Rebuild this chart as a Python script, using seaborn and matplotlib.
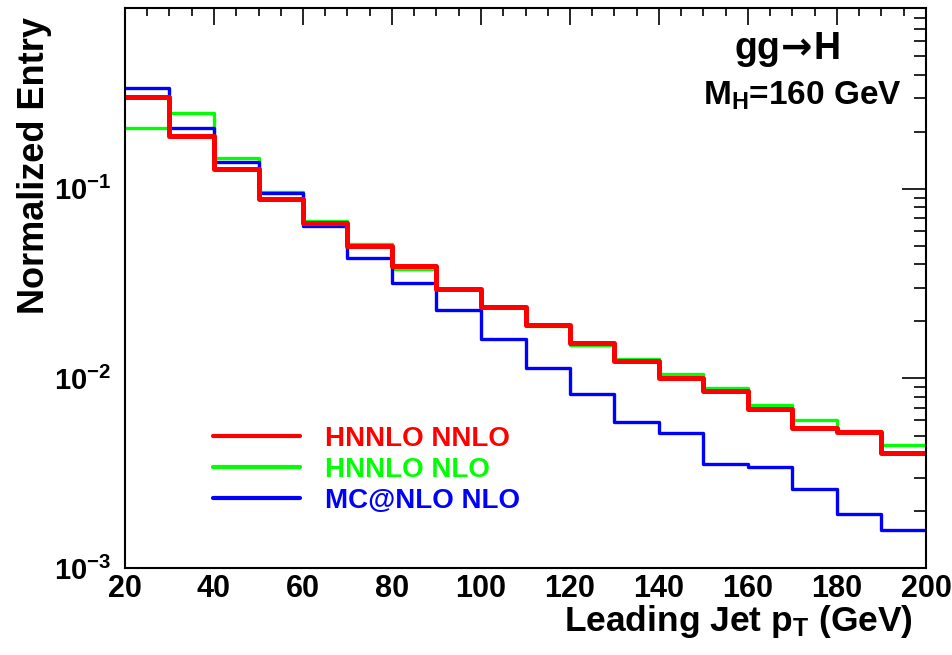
import numpy as np
import pandas as pd
import matplotlib
matplotlib.use("Agg")
import matplotlib.pyplot as plt
import seaborn as sns
from matplotlib.ticker import FixedLocator, MultipleLocator, LogLocator, FuncFormatter

# ---- data ----
bin_edges = [20, 30, 40, 50, 60, 70, 80, 90, 100, 110, 120, 130, 140, 150, 160, 170, 180, 190, 200]
hnnlo_nnlo = [0.305, 0.190, 0.127, 0.0889, 0.066, 0.0497, 0.0393, 0.0297, 0.0239, 0.0191,
              0.0153, 0.0124, 0.0101, 0.00863, 0.0069, 0.00546, 0.00519, 0.00403]
hnnlo_nlo = [0.210, 0.251, 0.145, 0.0968, 0.068, 0.051, 0.0380, 0.0295, 0.0238, 0.0189,
             0.0151, 0.0127, 0.0105, 0.00893, 0.00724, 0.00604, 0.0053, 0.00444]
mcnlo_nlo = [0.340, 0.210, 0.138, 0.0946, 0.064, 0.043, 0.0318, 0.0230, 0.0161, 0.0114,
             0.00826, 0.00587, 0.00518, 0.00354, 0.0034, 0.0026, 0.00193, 0.00158]
series_names = ["HNNLO NNLO", "HNNLO NLO", "MC@NLO NLO"]
series_colors = {"HNNLO NNLO": "#ff0000", "HNNLO NLO": "#00ff00", "MC@NLO NLO": "#0000ff"}
series_lw = {"HNNLO NNLO": 3.6, "HNNLO NLO": 2.4, "MC@NLO NLO": 2.4}
y_ticks = [1e-3, 1e-2, 1e-1]
x_ticks = [20, 40, 60, 80, 100, 120, 140, 160, 180, 200]

centers = [(a + b) / 2 for a, b in zip(bin_edges[:-1], bin_edges[1:])]
df = pd.DataFrame({
    "pt": centers * 3,
    "w": hnnlo_nnlo + hnnlo_nlo + mcnlo_nlo,
    "series": [series_names[0]] * len(centers) + [series_names[1]] * len(centers) + [series_names[2]] * len(centers),
})

sns.set_style("white")
plt.rcParams["font.family"] = ["Liberation Sans", "DejaVu Sans"]
plt.rcParams["font.weight"] = "bold"
plt.rcParams["text.color"] = "black"
plt.rcParams["axes.labelcolor"] = "black"
plt.rcParams["xtick.color"] = "black"
plt.rcParams["ytick.color"] = "black"
plt.rcParams["axes.unicode_minus"] = False
plt.rcParams["mathtext.fontset"] = "custom"
plt.rcParams["mathtext.rm"] = "Liberation Sans:bold"
plt.rcParams["mathtext.bf"] = "Liberation Sans:bold"
plt.rcParams["mathtext.it"] = "Liberation Sans:bold"
plt.rcParams["mathtext.sf"] = "DejaVu Sans"
plt.rcParams["mathtext.default"] = "bf"

fig = plt.figure(figsize=(9.53, 6.55), dpi=100)
ax = fig.add_axes([125 / 953, 1 - 568 / 655, (926 - 125) / 953, (568 - 8) / 655])

draw_order = ["HNNLO NLO", "MC@NLO NLO", "HNNLO NNLO"]
for name in draw_order:
    sub = df[df["series"] == name]
    sns.histplot(data=sub, x="pt", weights="w", bins=bin_edges, element="step", fill=False,
                 color=series_colors[name], linewidth=series_lw[name], ax=ax, label=name)

ax.set_yscale("log")
ax.set_xlim(20, 200)
ax.set_ylim(1e-3, 0.9)

ax.xaxis.set_major_locator(FixedLocator(x_ticks))
ax.xaxis.set_minor_locator(MultipleLocator(5))
ax.yaxis.set_major_locator(FixedLocator(y_ticks))
ax.yaxis.set_minor_locator(LogLocator(base=10, subs=np.arange(2, 10), numticks=20))
ax.yaxis.set_minor_formatter(FuncFormatter(lambda v, p: ""))
ax.yaxis.set_major_formatter(FuncFormatter(lambda v, p: r"$10^{%d}$" % int(round(np.log10(v)))))
ax.xaxis.set_major_formatter(FuncFormatter(lambda v, p: "%d" % v))

ax.tick_params(axis="both", which="both", direction="in", top=True, right=True, width=1.2, colors="black")
ax.tick_params(axis="x", which="major", length=12, labelsize=22, pad=4)
ax.tick_params(axis="x", which="minor", length=6)
ax.tick_params(axis="y", which="major", length=17, labelsize=21, pad=10)
ax.tick_params(axis="y", which="minor", length=8.5)
for lab in ax.get_xticklabels() + ax.get_yticklabels():
    lab.set_fontweight("bold")
for s in ax.spines.values():
    s.set_linewidth(1.5)
    s.set_color("black")

ax.set_xlabel(r"Leading Jet p$_{\mathbf{T}}$ (GeV)", fontsize=25.5, fontweight="bold", loc="right", labelpad=2)
ax.xaxis.set_label_coords(0.983, -0.062)
ax.set_ylabel("Normalized Entry", fontsize=26, fontweight="bold", loc="top")
ax.yaxis.set_label_coords(-0.091, 0.984)

ax.text(0.826, 0.909, r"gg$\!\mathsf{\rightarrow}\!$H", transform=ax.transAxes, fontsize=27, fontweight="bold",
        ha="center", va="baseline")
ax.text(0.846, 0.827, r"M$_{\mathbf{H}}$=160 GeV", transform=ax.transAxes, fontsize=24, fontweight="bold",
        ha="center", va="baseline")

handles, labels = ax.get_legend_handles_labels()
order = [labels.index(n) for n in series_names]
leg = ax.legend([handles[i] for i in order], [labels[i] for i in order], loc="upper left",
                bbox_to_anchor=(0.079, 0.298), frameon=False, fontsize=20, handlelength=3.13,
                handletextpad=0.9, labelspacing=0.18, labelcolor="linecolor")
for t in leg.get_texts():
    t.set_fontweight("bold")
for h in leg.get_lines():
    h.set_linewidth(3.0)

fig.savefig("out.png", dpi=100)
